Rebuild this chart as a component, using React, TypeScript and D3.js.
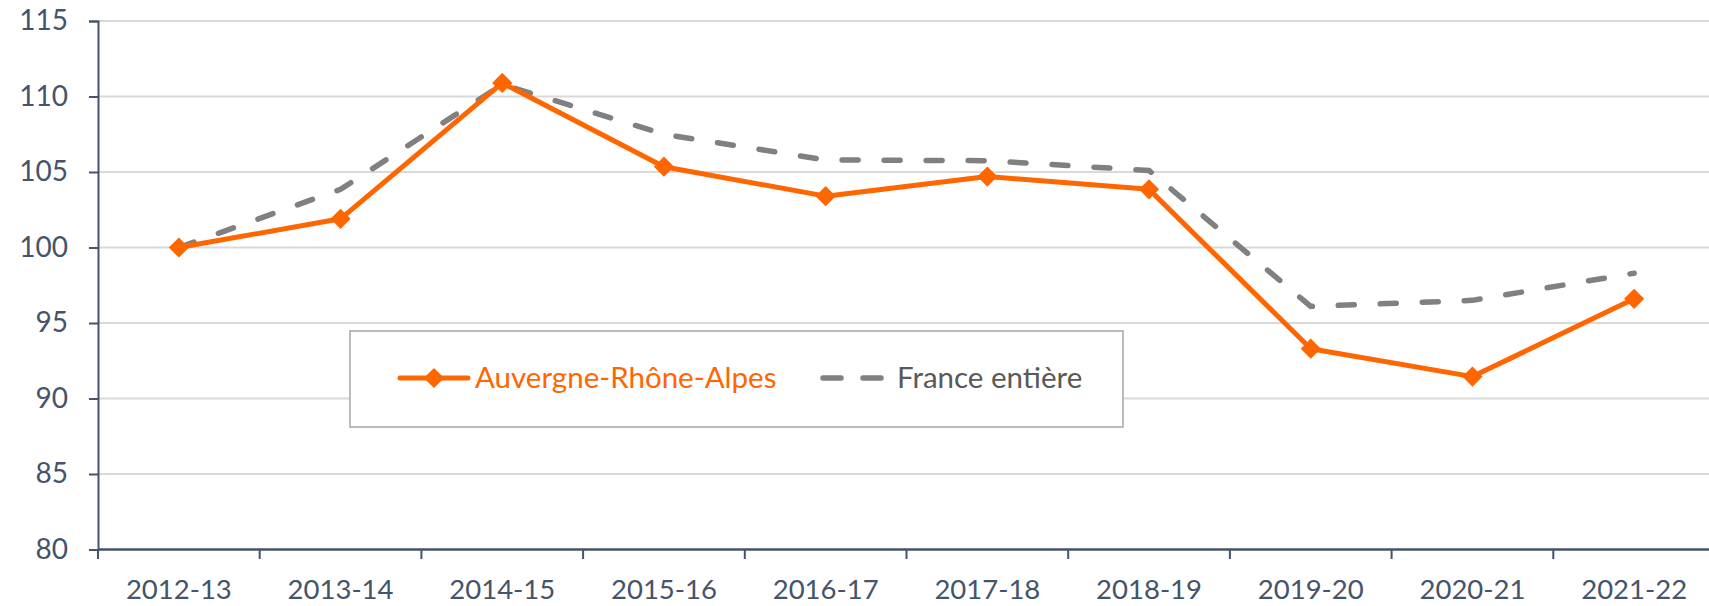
import React, { useRef, useEffect } from 'react';
import * as d3 from 'd3';

const categories = ['2012-13', '2013-14', '2014-15', '2015-16', '2016-17', '2017-18', '2018-19', '2019-20', '2020-21', '2021-22'];
const araValues = [100, 101.9, 110.9, 105.35, 103.4, 104.7, 103.85, 93.3, 91.45, 96.6];
const franceValues = [100, 103.85, 110.8, 107.5, 105.8, 105.75, 105.1, 96.1, 96.5, 98.3];
const yTicks = [80, 85, 90, 95, 100, 105, 110, 115];
const seriesNames = ['Auvergne-Rhône-Alpes', 'France entière'];

const W = 1709;
const H = 606;
const FONT = 'Lato, "Open Sans", sans-serif';
const TEXT = '#44546a';
const ORANGE = '#ff6600';
const GREY = '#808080';

const App: React.FC = () => {
  const chartRef = useRef<SVGSVGElement>(null);

  useEffect(() => {
    if (!chartRef.current) return;
    const svg = d3.select(chartRef.current);
    svg.selectAll('*').remove();

    const x = d3.scaleBand<string>()
      .domain(categories)
      .range([98, 1715]);
    const y = d3.scaleLinear()
      .domain([80, 115])
      .range([549.5, 21]);
    const cx = (c: string) => (x(c) as number) + x.bandwidth() / 2;

    // gridlines
    svg.append('g')
      .selectAll('line')
      .data(yTicks.filter(t => t > 80))
      .enter()
      .append('line')
      .attr('x1', 98)
      .attr('x2', W)
      .attr('y1', d => y(d))
      .attr('y2', d => y(d))
      .attr('stroke', '#d9d9d9')
      .attr('stroke-width', 2);

    // y axis
    const yAxis = svg.append('g')
      .attr('transform', 'translate(98,0)')
      .call(d3.axisLeft(y).tickValues(yTicks).tickSize(9).tickPadding(21));
    yAxis.select('.domain').attr('stroke', TEXT).attr('stroke-width', 2);
    yAxis.selectAll('.tick line').attr('stroke', TEXT).attr('stroke-width', 2);
    yAxis.selectAll('text')
      .style('font-family', FONT)
      .style('font-size', '28px')
      .attr('fill', TEXT);

    // x axis
    const xAxis = svg.append('g')
      .attr('transform', 'translate(0,549.5)')
      .call(d3.axisBottom(x).tickSize(0).tickPadding(0));
    xAxis.select('.domain').remove();
    xAxis.selectAll('text')
      .attr('y', 49)
      .attr('dy', 0)
      .style('font-family', FONT)
      .style('font-size', '27.5px')
      .attr('fill', TEXT);
    svg.append('line')
      .attr('x1', 98).attr('x2', W)
      .attr('y1', 549.5).attr('y2', 549.5)
      .attr('stroke', TEXT).attr('stroke-width', 2.5);
    svg.append('g')
      .selectAll('line')
      .data(categories)
      .enter()
      .append('line')
      .attr('x1', d => x(d) as number)
      .attr('x2', d => x(d) as number)
      .attr('y1', 549.5)
      .attr('y2', 559)
      .attr('stroke', TEXT)
      .attr('stroke-width', 2);

    const line = d3.line<number>()
      .x((_, i) => cx(categories[i]))
      .y(d => y(d));

    // France entière (dashed)
    svg.append('path')
      .datum(franceValues)
      .attr('d', line)
      .attr('fill', 'none')
      .attr('stroke', GREY)
      .attr('stroke-width', 5.5)
      .attr('stroke-linecap', 'round')
      .attr('stroke-dasharray', '16 26');

    // Auvergne-Rhône-Alpes
    svg.append('path')
      .datum(araValues)
      .attr('d', line)
      .attr('fill', 'none')
      .attr('stroke', ORANGE)
      .attr('stroke-width', 5)
      .attr('stroke-linejoin', 'round');

    const diamond = d3.symbol().type(d3.symbolDiamond2).size(260);
    svg.append('g')
      .selectAll('path')
      .data(araValues)
      .enter()
      .append('path')
      .attr('d', diamond)
      .attr('transform', (d, i) => `translate(${cx(categories[i])},${y(d)})`)
      .attr('fill', ORANGE);

    // legend
    const lg = svg.append('g');
    lg.append('rect')
      .attr('x', 350).attr('y', 331)
      .attr('width', 773).attr('height', 96)
      .attr('fill', '#fff')
      .attr('stroke', '#a6a6a6')
      .attr('stroke-width', 1.5);
    lg.append('line')
      .attr('x1', 400).attr('x2', 468)
      .attr('y1', 378).attr('y2', 378)
      .attr('stroke', ORANGE).attr('stroke-width', 5).attr('stroke-linecap', 'round');
    lg.append('path')
      .attr('d', diamond)
      .attr('transform', 'translate(434,378)')
      .attr('fill', ORANGE);
    lg.append('text')
      .attr('x', 475).attr('y', 388)
      .style('font-family', FONT).style('font-size', '29.5px')
      .attr('fill', ORANGE)
      .text(seriesNames[0]);
    lg.append('line')
      .attr('x1', 823).attr('x2', 883)
      .attr('y1', 378).attr('y2', 378)
      .attr('stroke', GREY).attr('stroke-width', 5.5)
      .attr('stroke-linecap', 'round').attr('stroke-dasharray', '18 22');
    lg.append('text')
      .attr('x', 897).attr('y', 388)
      .style('font-family', FONT).style('font-size', '29.5px')
      .attr('fill', '#595959')
      .text(seriesNames[1]);
  }, []);

  return (
    <svg
      ref={chartRef}
      width={W}
      height={H}
      style={{ position: 'absolute', left: 0, top: 0, background: '#fff' }}
    />
  );
};

export default App;
